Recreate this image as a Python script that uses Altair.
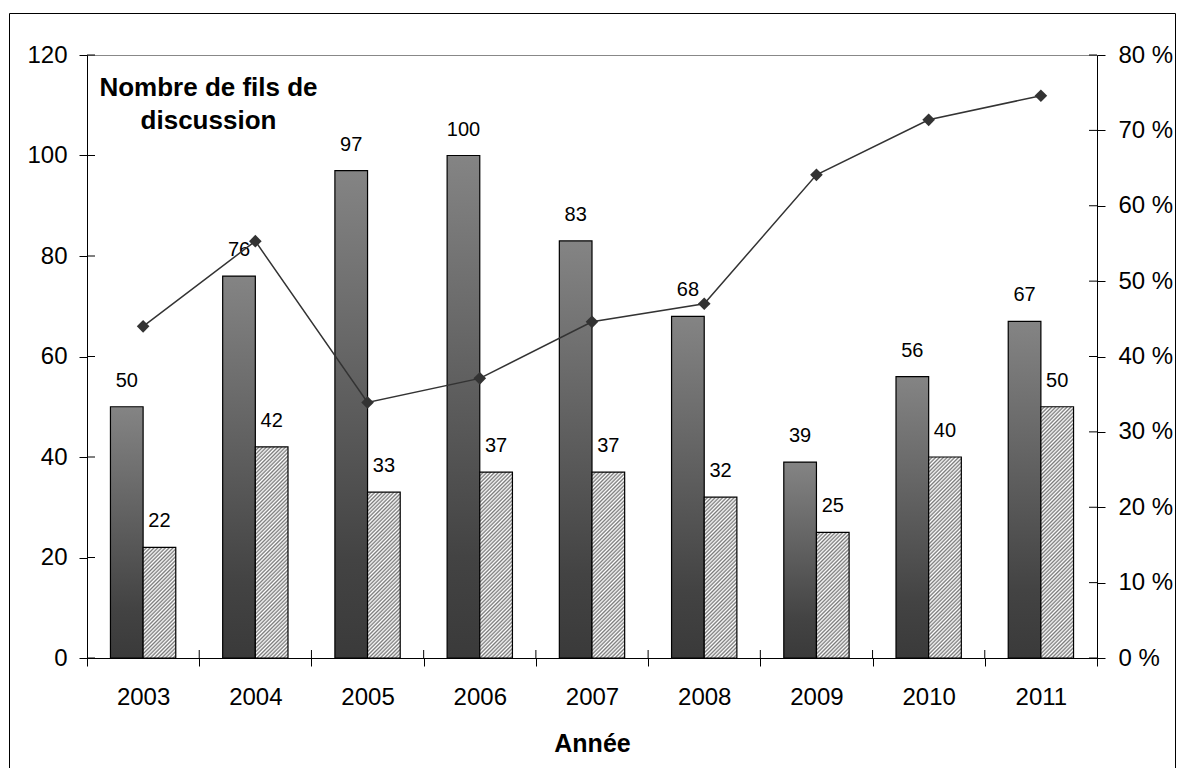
import altair as alt
import pandas as pd

# ---- data ----
years = ["2003", "2004", "2005", "2006", "2007", "2008", "2009", "2010", "2011"]
threads = [50, 76, 97, 100, 83, 68, 39, 56, 67]
answered = [22, 42, 33, 37, 37, 32, 25, 40, 50]
share_pct = [44.0, 55.3, 33.9, 37.1, 44.6, 47.0, 64.1, 71.4, 74.6]
left_ticks = [0, 20, 40, 60, 80, 100, 120]
right_ticks = [0, 10, 20, 30, 40, 50, 60, 70, 80]

# ---- layout ----
PLOT_W, PLOT_H = 1010, 603
PAD_L, PAD_T, PAD_R, PAD_B = 79, 47, 79, 110
OFFSET_PAD = 0.718
Y_MAX_L, Y_MAX_R = 120, 80
FONT = "Liberation Sans"
BAR_W = PLOT_W / len(years) / (2 + 2 * OFFSET_PAD)

df = pd.DataFrame({"year": years, "threads": threads, "answered": answered, "pct": share_pct})
ticks_left = pd.DataFrame({"v": left_ticks})
ticks_right = pd.DataFrame({"v": right_ticks})
one = pd.DataFrame({"k": [0]})

dark_grad = alt.LinearGradient(
    gradient="linear", x1=0, y1=0, x2=0, y2=1,
    stops=[alt.GradientStop(offset=0, color="#848484"),
           alt.GradientStop(offset=0.8, color="#434343"),
           alt.GradientStop(offset=1, color="#3a3a3a")])


def stripes(w, h, period=3.8, c1="#7a7a7a", c2="#ffffff"):
    s = (w + h) / (w * w + h * h)
    n = (w + h) / period
    stops = []
    k = 0
    while k / n < 1:
        a = k / n
        b = min((k + 0.45) / n, 1)
        stops += [alt.GradientStop(offset=a, color=c1)]
        if b < 1:
            stops += [alt.GradientStop(offset=b, color=c2)]
        k += 1
    stops.append(alt.GradientStop(offset=1, color=c1))
    return alt.LinearGradient(gradient="linear", x1=0, y1=0, x2=w * s, y2=h * s, stops=stops)


x_scale = alt.Scale(type="band", paddingInner=0, paddingOuter=0, domain=years)
off_scale = alt.Scale(type="band", domain=["a", "b"], paddingInner=0, paddingOuter=OFFSET_PAD)
x_axis = alt.Axis(title="Année", titleFontSize=25, titleFontWeight="bold", titleX=PLOT_W / 2,
                  titleY=93, titleAlign="center", titleBaseline="alphabetic",
                  labelFontSize=24, labelAngle=0, labelPadding=38, labelBaseline="alphabetic",
                  tickSize=8, tickBand="extent", grid=False)
yl_title = ["Nombre de fils de", "discussion"]
yl_scale = alt.Scale(domain=[0, Y_MAX_L], nice=False)
yl_axis = alt.Axis(values=left_ticks, tickSize=8, labelFontSize=24, labelPadding=12, grid=False,
                   title=yl_title, titleAngle=0, titleX=121, titleY=40, titleAlign="center",
                   titleBaseline="alphabetic", titleFontSize=26, titleFontWeight="bold",
                   titleLineHeight=33)
yr_scale = alt.Scale(domain=[0, Y_MAX_R], nice=False)
yr_axis = alt.Axis(orient="right", values=right_ticks, labelExpr="datum.value + ' %'",
                   tickSize=8, labelFontSize=24, labelPadding=13, grid=False, title=None)


def X(**kw):
    return alt.X("year:N", title="Année", scale=x_scale, axis=x_axis, **kw)


def YL(field):
    return alt.Y(f"{field}:Q", title=yl_title, scale=yl_scale, axis=yl_axis)


def YR(field):
    return alt.Y(f"{field}:Q", title=None, scale=yr_scale, axis=yr_axis)


off_a = alt.XOffset("s:N", scale=off_scale)

dark = alt.Chart(df).transform_calculate(s="'a'").mark_bar(
    fill=dark_grad, stroke="black", strokeWidth=1.2
).encode(x=X(), xOffset=off_a, y=YL("threads"))

hatched = []
for i, yr in enumerate(years):
    h = answered[i] * PLOT_H / Y_MAX_L
    hatched.append(
        alt.Chart(df).transform_filter(alt.datum.year == yr).transform_calculate(s="'b'").mark_bar(
            fill=stripes(BAR_W, h), stroke="black", strokeWidth=1.2
        ).encode(x=X(), xOffset=off_a, y=YL("answered"))
    )

lab_dark = alt.Chart(df).transform_calculate(s="'a'").mark_text(
    dy=-20, baseline="alphabetic", fontSize=20, color="black"
).encode(x=X(), xOffset=off_a, y=YL("threads"), text="threads:Q")

lab_hatch = alt.Chart(df).transform_calculate(s="'b'").mark_text(
    dy=-20, baseline="alphabetic", fontSize=20, color="black"
).encode(x=X(), xOffset=off_a, y=YL("answered"), text="answered:Q")

yl_in = alt.Chart(ticks_left).mark_rule(color="black", strokeWidth=1).encode(
    y=YL("v"), x=alt.value(0), x2=alt.value(8))

x_in = alt.Chart(df).transform_filter(alt.datum.year != years[0]).mark_rule(
    color="black", strokeWidth=1).encode(
    x=X(bandPosition=0), y=alt.value(PLOT_H - 8), y2=alt.value(PLOT_H))

frame = alt.Chart(one).mark_rect(fillOpacity=0, stroke="black", strokeWidth=1).encode(
    x=alt.value(-PAD_L + 1.5), x2=alt.value(PLOT_W + PAD_R - 0.5),
    y=alt.value(-PAD_T + 5.5), y2=alt.value(PLOT_H + PAD_B + 20))

left = alt.layer(frame, dark, *hatched, lab_dark, lab_hatch, yl_in, x_in)

line = alt.Chart(df).mark_line(color="#333333", strokeWidth=1.5).encode(x=X(), y=YR("pct"))
pts = alt.Chart(df).mark_point(shape="diamond", filled=True, size=160, color="#333333",
                               opacity=1).encode(x=X(), y=YR("pct"))
yr_in = alt.Chart(ticks_right).mark_rule(color="black", strokeWidth=1).encode(
    y=YR("v"), x=alt.value(PLOT_W - 8), x2=alt.value(PLOT_W))

right = alt.layer(line, pts, yr_in)

chart = alt.layer(left, right).resolve_scale(y="independent").properties(
    width=PLOT_W, height=PLOT_H,
    padding={"left": PAD_L, "top": PAD_T, "right": PAD_R, "bottom": PAD_B},
    autosize=alt.AutoSizeParams(type="none"),
).configure(font=FONT).configure_view(stroke="#888888", strokeWidth=1).configure_axis(
    domainColor="black", tickColor="black", labelColor="black", titleColor="black",
    labelFont=FONT, titleFont=FONT)

chart.save("out.html", embed_options={"renderer": "svg", "actions": False})
